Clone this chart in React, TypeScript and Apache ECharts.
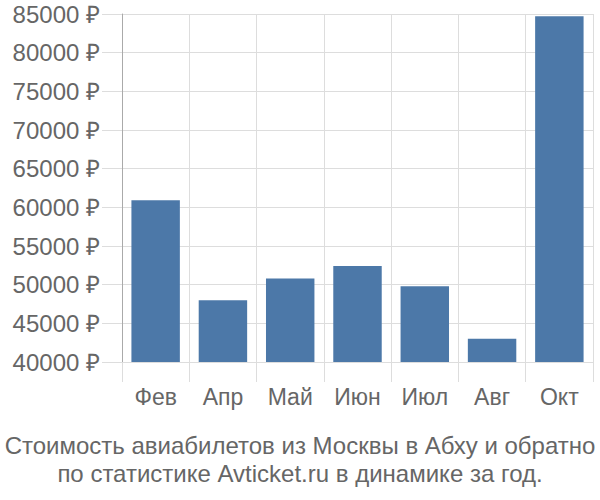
import React, { useEffect, useRef } from "react";
import * as echarts from "echarts";

const categories = ["Фев", "Апр", "Май", "Июн", "Июл", "Авг", "Окт"];
const prices = [60900, 48000, 50800, 52400, 49800, 43000, 84700];
const yMin = 40000;
const yMax = 85000;
const yStep = 5000;
const titleLines = [
  "Стоимость авиабилетов из Москвы в Абху и обратно",
  "по статистике Avticket.ru в динамике за год.",
];

export default function App() {
  const ref = useRef<HTMLDivElement>(null);
  useEffect(() => {
    if (!ref.current) return;
    document.body.style.margin = "0";
    const chart = echarts.init(ref.current, null, { renderer: "svg" });
    const font = "'Liberation Sans', Arial, sans-serif";
    chart.setOption({
      animation: false,
      grid: { left: 122, right: 7, top: 14, bottom: 138, containLabel: false },
      xAxis: {
        type: "category",
        data: categories,
        axisLine: { show: true, lineStyle: { color: "#dddddd", width: 1 } },
        axisTick: { show: true, length: 20, lineStyle: { color: "#dddddd", width: 1 } },
        splitLine: { show: true, lineStyle: { color: "#dddddd", width: 1 } },
        axisLabel: { color: "#666666", fontSize: 23, fontFamily: font, margin: 23 },
      },
      yAxis: {
        type: "value",
        min: yMin,
        max: yMax,
        interval: yStep,
        axisLine: { show: true, lineStyle: { color: "#aaaaaa", width: 1 } },
        axisTick: { show: true, length: 20, lineStyle: { color: "#dddddd", width: 1 } },
        splitLine: { show: true, lineStyle: { color: "#dddddd", width: 1 } },
        axisLabel: {
          color: "#666666",
          fontSize: 24,
          fontFamily: font,
          margin: 22,
          formatter: (v: number) => v + " ₽",
        },
      },
      series: [
        {
          type: "bar",
          data: prices,
          barCategoryGap: "28%",
          itemStyle: { color: "#4c78a8" },
        },
      ],
      graphic: [
        {
          type: "line",
          shape: { x1: 122.5, y1: 362, x2: 122.5, y2: 382 },
          style: { stroke: "#aaaaaa", lineWidth: 1 },
        },
        {
          type: "text",
          left: "center",
          top: 431,
          style: {
            text: titleLines.join("\n"),
            fill: "#666666",
            font: "24px " + font,
            textAlign: "center",
            lineHeight: 28,
          },
        },
      ],
    });
    return () => chart.dispose();
  }, []);
  return <div ref={ref} style={{ width: 600, height: 500 }} />;
}
